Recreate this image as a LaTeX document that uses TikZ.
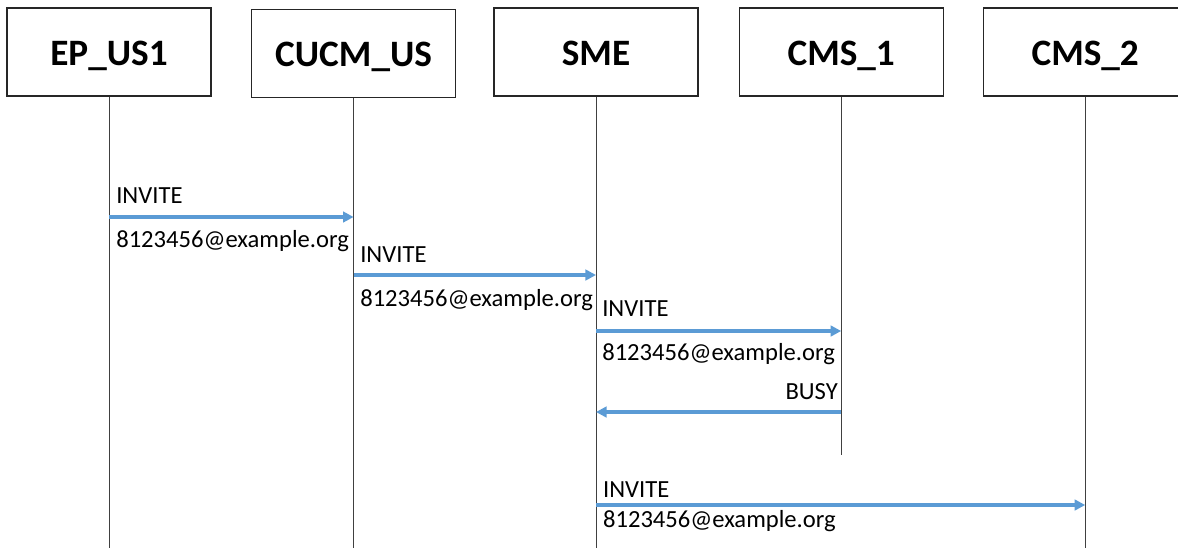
\documentclass[tikz,border=0pt]{standalone}
\usepackage{fontspec}
\setmainfont{Carlito}
\usepackage{xcolor}
\usepackage{tikz}
\usetikzlibrary{arrows.meta}
\definecolor{msgblue}{RGB}{91,155,213}

\begin{document}
\begin{tikzpicture}[
    ent/.style={shape=rectangle, draw=black!85, line width=0.8pt, minimum width=5.1cm, minimum height=2.2cm, text height=18.5pt, text depth=0pt, font=\fontsize{26.5}{30}\selectfont\bfseries},
    life/.style={draw=black!75, line width=0.6pt},
    msg/.style={draw=msgblue, line width=2.4pt, -{Triangle[length=7.5pt,width=7.5pt]}},
    txt/.style={inner sep=0pt, font=\fontsize{17.5}{20}\selectfont}]
    \useasboundingbox (0,0) rectangle (29.45,-13.7);
    \coordinate (bot) at (0,-13.7);

    \node[ent] (ep) at (2.725,-1.3) {EP\_US1};
    \node[ent] (cucm) at (8.84,-1.34) {CUCM\_US};
    \node[ent] (sme) at (14.9,-1.3) {SME};
    \node[ent] (cms1) at (21.03,-1.3) {CMS\_1};
    \node[ent] (cms2) at (27.13,-1.3) {CMS\_2};

    \draw[life] (ep) -- (ep |- bot);
    \draw[life] (cucm) -- (cucm |- bot);
    \draw[life] (sme) -- (sme |- bot);
    \draw[life] (cms1) -- (cms1 |- 0,-11.375);
    \draw[life] (cms2) -- (cms2 |- bot);

    \draw[msg] (ep |- 0,-5.425) -- (cucm |- 0,-5.425);
    \node[txt,anchor=base west] (inv1) at (2.9,-5.075) {INVITE};
    \node[txt,anchor=base west] (uri1) at (2.9,-6.175) {8123456@example.org};

    \draw[msg] (cucm |- 0,-6.875) -- (sme |- 0,-6.875);
    \node[txt,anchor=base west] (inv2) at (9.0,-6.55) {INVITE};
    \node[txt,anchor=base west] (uri2) at (9.0,-7.65) {8123456@example.org};

    \draw[msg] (sme |- 0,-8.275) -- (cms1 |- 0,-8.275);
    \node[txt,anchor=base west] (inv3) at (15.05,-7.9) {INVITE};
    \node[txt,anchor=base west] (uri3) at (15.05,-9.0) {8123456@example.org};

    \draw[msg] (cms1 |- 0,-10.3) -- (sme |- 0,-10.3);
    \node[txt,anchor=base east] (busy) at (20.95,-9.975) {BUSY};

    \draw[msg] (sme |- 0,-12.625) -- (cms2 |- 0,-12.625);
    \node[txt,anchor=base west] (inv4) at (15.07,-12.425) {INVITE};
    \node[txt,anchor=base west] (uri4) at (15.07,-13.175) {8123456@example.org};
\end{tikzpicture}
\end{document}
